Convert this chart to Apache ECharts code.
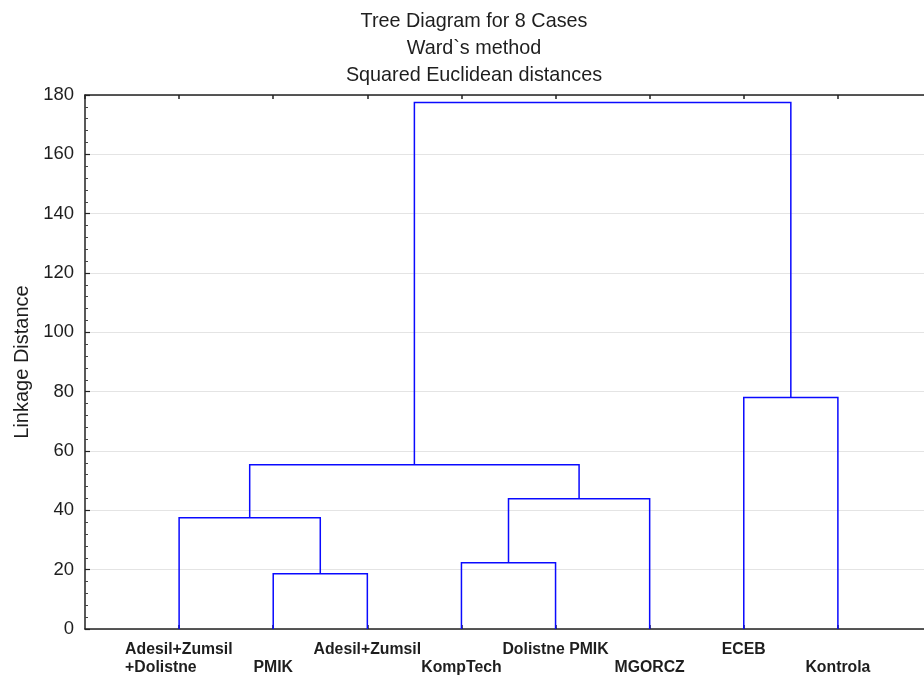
<!DOCTYPE html>
<html>
<head>
<meta charset="utf-8">
<title>Tree Diagram for 8 Cases</title>
<script src="https://cdn.jsdelivr.net/npm/echarts@6/dist/echarts.min.js"></script>
<style>
  html, body { margin: 0; padding: 0; background: #ffffff; }
  #chart { width: 924px; height: 677px; }
</style>
</head>
<body>
<div id="chart"></div>
<script>
// Leaves in dendrogram order (left to right)
const leafNames = [
  'Adesil+Zumsil\n+Dolistne', 'PMIK', 'Adesil+Zumsil', 'KompTech',
  'Dolistne PMIK', 'MGORCZ', 'ECEB', 'Kontrola'
];

// Ward linkage steps: ids 0..7 are leaves, id 8+k is the cluster made at step k
const mergeLeft   = [1, 3, 0, 9, 10, 6, 12];
const mergeRight  = [2, 4, 8, 5, 11, 7, 13];
const mergeHeight = [18.6, 22.3, 37.5, 43.9, 55.4, 78.0, 177.5];

// Y axis ticks
const yTicks = [0, 20, 40, 60, 80, 100, 120, 140, 160, 180];

const FONT = '"Liberation Sans", Arial, sans-serif';
const INK = '#1e1e1e';

// Horizontal position of each node (leaf i sits at i+1) and its height
const nodeX = leafNames.map((_, i) => i + 1);
const nodeH = leafNames.map(() => 0);
const links = [];
mergeLeft.forEach((a, k) => {
  const b = mergeRight[k];
  const h = mergeHeight[k];
  links.push([nodeX[a], nodeH[a], nodeX[b], nodeH[b], h]);
  nodeX.push((nodeX[a] + nodeX[b]) / 2);
  nodeH.push(h);
});

// Width of the widest line of the two-line leaf label, to left-align its lines
const LABEL_SIZE = 15.8;
const labelFont = 'bold ' + LABEL_SIZE + 'px ' + FONT;
const measureCtx = document.createElement('canvas').getContext('2d');
measureCtx.font = labelFont;
const firstLines = leafNames[0].split('\n');
const blockW = Math.ceil(Math.max(...firstLines.map(t => measureCtx.measureText(t).width)));

function leafLabel(v) {
  const i = Math.round(v) - 1;
  if (Math.abs(v - Math.round(v)) > 1e-6 || i < 0 || i >= leafNames.length) return '';
  const name = leafNames[i];
  const lines = name.split('\n');
  const body = lines.length > 1 ? lines.map(t => '{blk|' + t + '}').join('\n') : name;
  // alternate leaves drop to a second row
  return i % 2 === 0 ? body : '\n' + body;
}

const chart = echarts.init(document.getElementById('chart'), null, { renderer: 'canvas' });

chart.setOption({
  backgroundColor: '#ffffff',
  animation: false,
  title: {
    text: 'Tree Diagram for 8 Cases\nWard`s method\nSquared Euclidean distances',
    left: 469,
    top: 3,
    textAlign: 'center',
    textStyle: {
      fontFamily: FONT,
      fontWeight: 'normal',
      fontSize: 19.8,
      lineHeight: 27,
      color: INK
    }
  },
  grid: { left: 85, right: -8, top: 95, bottom: 48, containLabel: false, outerBoundsMode: 'none' },
  xAxis: [
    {
      type: 'value',
      position: 'bottom',
      min: 0,
      max: leafNames.length + 1,
      interval: 1,
      axisLine: { show: true, onZero: false, lineStyle: { color: '#222', width: 1.5 } },
      axisTick: { show: true, inside: true, length: 4, lineStyle: { color: '#222', width: 1.5 } },
      splitLine: { show: false },
      axisLabel: {
        show: true,
        margin: 12,
        fontFamily: FONT,
        fontWeight: 'bold',
        fontSize: LABEL_SIZE,
        lineHeight: 18,
        color: INK,
        showMinLabel: false,
        showMaxLabel: false,
        hideOverlap: false,
        formatter: leafLabel,
        rich: {
          blk: {
            width: blockW,
            align: 'left',
            fontFamily: FONT,
            fontWeight: 'bold',
            fontSize: LABEL_SIZE,
            lineHeight: 18,
            color: INK
          }
        }
      }
    },
    {
      type: 'value',
      position: 'top',
      min: 0,
      max: leafNames.length + 1,
      interval: 1,
      axisLine: { show: true, onZero: false, lineStyle: { color: '#222', width: 1.5 } },
      axisTick: { show: true, inside: true, length: 4, lineStyle: { color: '#222', width: 1.5 } },
      splitLine: { show: false },
      axisLabel: { show: false }
    }
  ],
  yAxis: {
    type: 'value',
    min: yTicks[0],
    max: yTicks[yTicks.length - 1],
    interval: yTicks[1] - yTicks[0],
    name: 'Linkage Distance',
    nameLocation: 'middle',
    nameGap: 52,
    nameTextStyle: { fontFamily: FONT, fontSize: 20, color: INK },
    axisLine: { show: true, onZero: false, lineStyle: { color: '#222', width: 1.5 } },
    axisTick: { show: true, inside: true, length: 5, lineStyle: { color: '#222', width: 1.2 } },
    minorTick: { show: true, splitNumber: 5, length: 3, lineStyle: { color: '#444', width: 1 } },
    splitLine: { show: true, lineStyle: { color: '#e4e4e4', width: 1.2 } },
    axisLabel: {
      margin: 11,
      padding: [3, 0, 0, 0],
      fontFamily: FONT,
      fontSize: 18.5,
      color: INK,
      formatter: v => String(v)
    }
  },
  series: [
    {
      type: 'custom',
      xAxisIndex: 0,
      yAxisIndex: 0,
      data: links,
      encode: { x: [0, 2], y: [1, 3, 4] },
      clip: false,
      renderItem: function (params, api) {
        const p0 = api.coord([api.value(0), api.value(1)]);
        const p1 = api.coord([api.value(0), api.value(4)]);
        const p2 = api.coord([api.value(2), api.value(4)]);
        const p3 = api.coord([api.value(2), api.value(3)]);
        return {
          type: 'polyline',
          shape: { points: [p0, p1, p2, p3] },
          style: { fill: null, stroke: '#0a0aff', lineWidth: 1.5 }
        };
      }
    }
  ]
});
</script>
</body>
</html>
